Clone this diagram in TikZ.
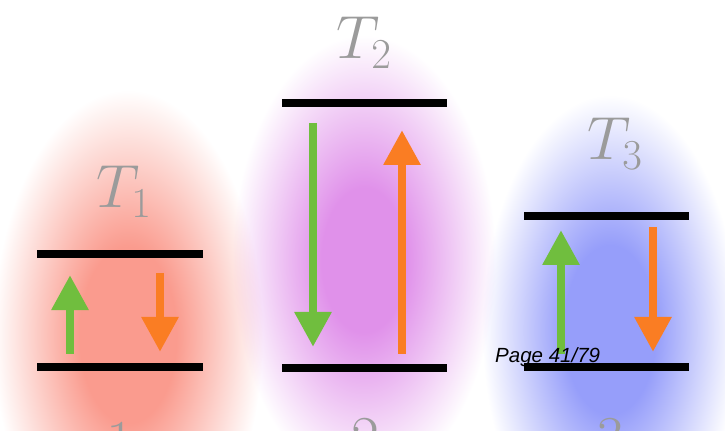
\RequirePackage{fix-cm}
\documentclass[tikz,border=0pt]{standalone}
\usepackage{fontspec}
\newfontfamily\pagefont{Liberation Sans}
\usetikzlibrary{arrows.meta}
\usetikzlibrary{positioning}

\definecolor{arrowgreen}{RGB}{112,190,62}
\definecolor{arroworange}{RGB}{250,125,35}
\definecolor{labelgray}{RGB}{155,155,155}
\definecolor{redcore}{RGB}{250,155,142}
\definecolor{magentacore}{RGB}{224,145,234}
\definecolor{bluecore}{RGB}{150,158,250}

\pgfdeclareradialshading{redblob}{\pgfpoint{0bp}{0bp}}{color(0bp)=(redcore); color(9bp)=(redcore); color(25bp)=(white); color(50bp)=(white)}
\pgfdeclareradialshading{magentablob}{\pgfpoint{0bp}{0bp}}{color(0bp)=(magentacore); color(8bp)=(magentacore); color(25bp)=(white); color(50bp)=(white)}
\pgfdeclareradialshading{blueblob}{\pgfpoint{0bp}{0bp}}{color(0bp)=(bluecore); color(9bp)=(bluecore); color(25bp)=(white); color(50bp)=(white)}

\begin{document}
\begin{tikzpicture}[x=0.03cm, y=-0.03cm,
    energylevel/.style={line width=6pt},
    transition/.style={line width=7.5pt, -{Triangle[length=1.05cm, width=1.05cm]}},
    templabel/.style={text=labelgray, font=\fontsize{52}{60}\selectfont, anchor=base}]
    \useasboundingbox (0,0) rectangle (725,431);
    \clip (0,0) rectangle (725,431);
    % coloured clouds behind the three systems
    \shade[shading=redblob, blend mode=multiply] (128,335) ellipse (135 and 245);
    \shade[shading=magentablob, blend mode=multiply] (364,260) ellipse (132 and 225);
    \shade[shading=blueblob, blend mode=multiply] (610,330) ellipse (128 and 235);
    % energy levels
    \draw[energylevel] (37,254)--(203,254);
    \draw[energylevel] (37,367)--(203,367);
    \draw[energylevel] (282,103)--(447,103);
    \draw[energylevel] (282,368)--(447,368);
    \draw[energylevel] (524,216)--(689,216);
    \draw[energylevel] (524,367)--(689,367);
    % arrow ends
    \coordinate (g1s) at (70,354);  \coordinate (g1e) at (70,275);
    \coordinate (o1s) at (160,273); \coordinate (o1e) at (160,352);
    \coordinate (g2s) at (313,123); \coordinate (g2e) at (313,347);
    \coordinate (o2s) at (402,354); \coordinate (o2e) at (402,130);
    \coordinate (g3s) at (561,354); \coordinate (g3e) at (561,230);
    \coordinate (o3s) at (653,227); \coordinate (o3e) at (653,352);
    \draw[transition, arrowgreen] (g1s)--(g1e);
    \draw[transition, arroworange] (o1s)--(o1e);
    \draw[transition, arrowgreen] (g2s)--(g2e);
    \draw[transition, arroworange] (o2s)--(o2e);
    \draw[transition, arrowgreen] (g3s)--(g3e);
    \draw[transition, arroworange] (o3s)--(o3e);
    % temperatures
    \node[templabel] (t1) at (124,208) {$T_1$};
    \node[templabel] (t2) at (364,59) {$T_2$};
    \node[templabel] (t3) at (615,160) {$T_3$};
    % system numbers, cut by the lower edge
    \node[templabel] (n1) at (120,462) {1};
    \node[templabel] (n2) at (365,458) {2};
    \node[templabel] (n3) at (610,458) {3};
    \node[anchor=base west, inner sep=0pt, font=\pagefont\itshape\fontsize{17.5}{20}\selectfont] (page) at (495,363) {Page 41/79};
\end{tikzpicture}
\end{document}
